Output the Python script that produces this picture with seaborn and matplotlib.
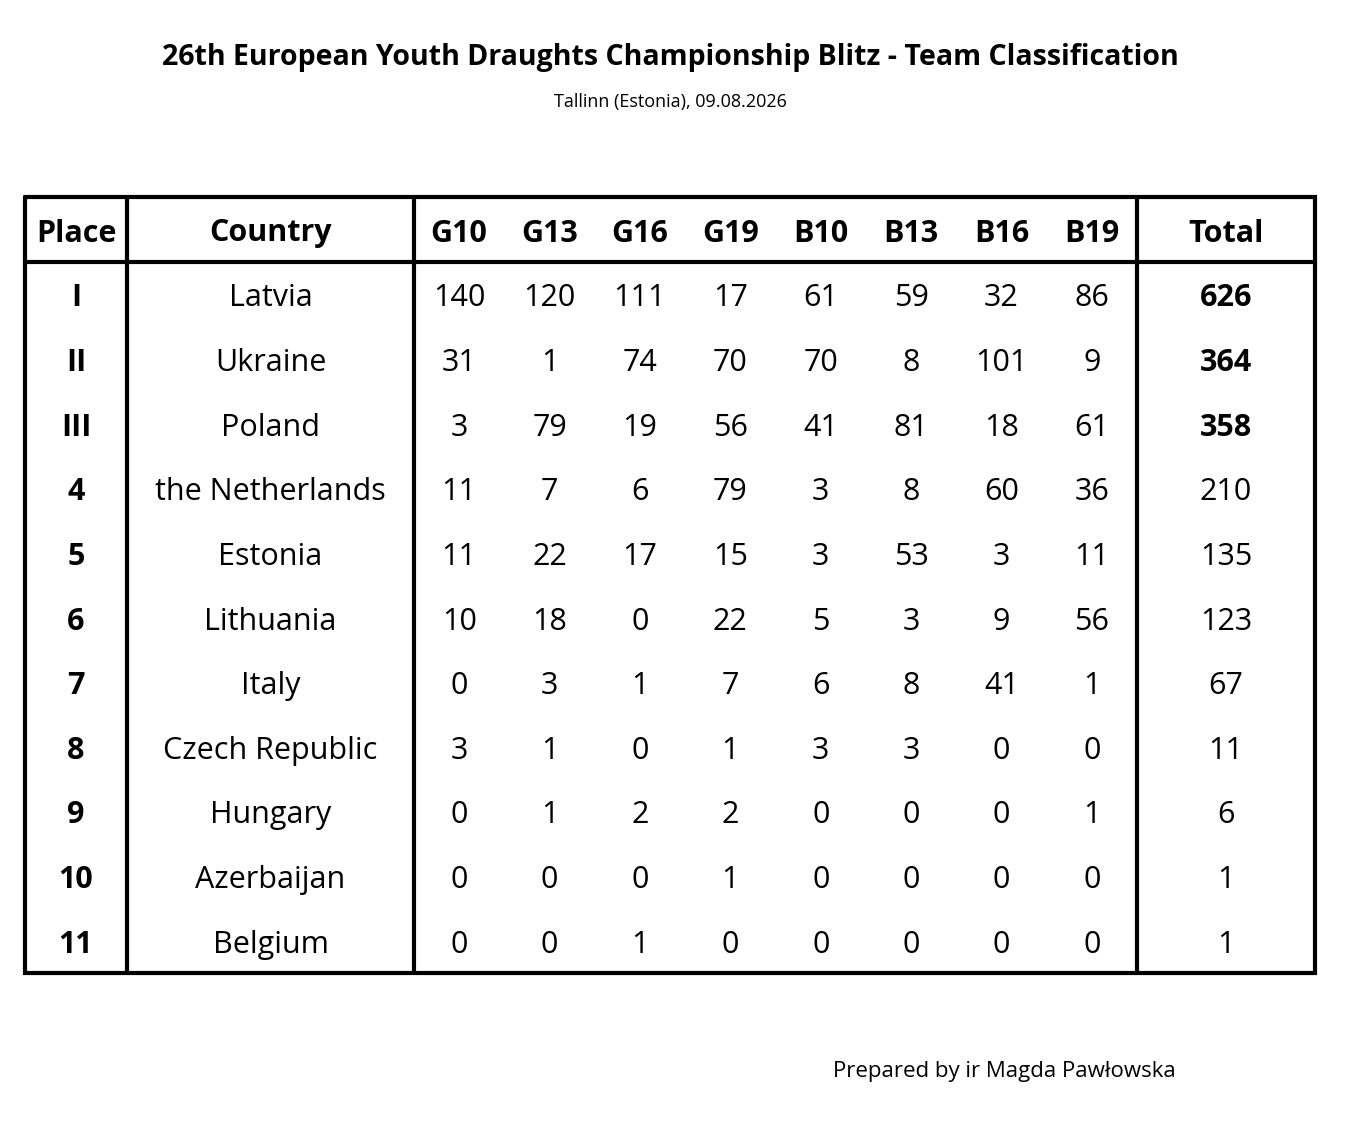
import numpy as np
import matplotlib.pyplot as plt
import seaborn as sns
from matplotlib.colors import ListedColormap

sns.set_theme(style='white')
plt.rcParams['font.family'] = ['Open Sans', 'DejaVu Sans']
plt.rcParams['text.color'] = 'black'

places = ['I', 'II', 'III', '4', '5', '6', '7', '8', '9', '10', '11']
countries = ['Latvia', 'Ukraine', 'Poland', 'the Netherlands', 'Estonia', 'Lithuania',
             'Italy', 'Czech Republic', 'Hungary', 'Azerbaijan', 'Belgium']
categories = ['G10', 'G13', 'G16', 'G19', 'B10', 'B13', 'B16', 'B19']
scores = [
    [140, 120, 111, 17, 61, 59, 32, 86],
    [31, 1, 74, 70, 70, 8, 101, 9],
    [3, 79, 19, 56, 41, 81, 18, 61],
    [11, 7, 6, 79, 3, 8, 60, 36],
    [11, 22, 17, 15, 3, 53, 3, 11],
    [10, 18, 0, 22, 5, 3, 9, 56],
    [0, 3, 1, 7, 6, 8, 41, 1],
    [3, 1, 0, 1, 3, 3, 0, 0],
    [0, 1, 2, 2, 0, 0, 0, 1],
    [0, 0, 0, 1, 0, 0, 0, 0],
    [0, 0, 1, 0, 0, 0, 0, 0],
]
totals = [626, 364, 358, 210, 135, 123, 67, 11, 6, 1, 1]

W, H = 1366, 1126
fig = plt.figure(figsize=(W / 100, H / 100), dpi=100)
fig.patch.set_facecolor('white')

left, right, top, head_bot, bottom = 25, 1315, 197, 262, 973
x_place, x_country, x_total = 127, 414, 1137
row_h = (bottom - head_bot) / len(places)
fs = 22
dy = 4  # small downward nudge for text centring

# score block via seaborn heatmap in its own axes (shifted slightly down)
hax = fig.add_axes([x_country / W, 1 - (bottom + dy) / H, (x_total - x_country) / W, (bottom - head_bot) / H])
sns.heatmap(np.array(scores), ax=hax, cmap=ListedColormap(['white']), cbar=False,
            annot=True, fmt='d', annot_kws={'fontsize': fs, 'color': 'black'},
            xticklabels=False, yticklabels=False)
hax.axis('off')

ax = fig.add_axes([0, 0, 1, 1])
ax.patch.set_alpha(0)
ax.set_xlim(0, W)
ax.set_ylim(H, 0)
ax.axis('off')

# header
hy = (top + head_bot) / 2 + dy
ax.text((left + x_place) / 2, hy, 'Place', ha='center', va='center', fontsize=fs, fontweight='bold')
ax.text((x_place + x_country) / 2, hy, 'Country', ha='center', va='center', fontsize=fs, fontweight='bold')
cw = (x_total - x_country) / len(categories)
for i, c in enumerate(categories):
    ax.text(x_country + cw * (i + 0.5), hy, c, ha='center', va='center', fontsize=fs, fontweight='bold')
ax.text((x_total + right) / 2, hy, 'Total', ha='center', va='center', fontsize=fs, fontweight='bold')

for r in range(len(places)):
    y = head_bot + row_h * (r + 0.5) + dy
    ax.text((left + x_place) / 2, y, places[r], ha='center', va='center', fontsize=fs, fontweight='bold')
    ax.text((x_place + x_country) / 2, y, countries[r], ha='center', va='center', fontsize=fs)
    ax.text((x_total + right) / 2, y, str(totals[r]), ha='center', va='center', fontsize=fs,
            fontweight='bold' if r < 3 else 'normal')

lw = 3
ax.plot([left, right, right, left, left], [top, top, bottom, bottom, top], color='black', lw=lw,
        solid_joinstyle='miter')
ax.plot([left, right], [head_bot, head_bot], color='black', lw=lw)
for x in (x_place, x_country, x_total):
    ax.plot([x, x], [top, bottom], color='black', lw=lw)

ax.text(670, 58, '26th European Youth Draughts Championship Blitz - Team Classification',
        ha='center', va='center', fontsize=20.5, fontweight='bold')
ax.text(670, 102, 'Tallinn (Estonia), 09.08.2026', ha='center', va='center', fontsize=13)
ax.text(1176, 1072, 'Prepared by ir Magda Pawłowska', ha='right', va='center', fontsize=16)

fig.savefig('out.png', dpi=100, facecolor='white')
